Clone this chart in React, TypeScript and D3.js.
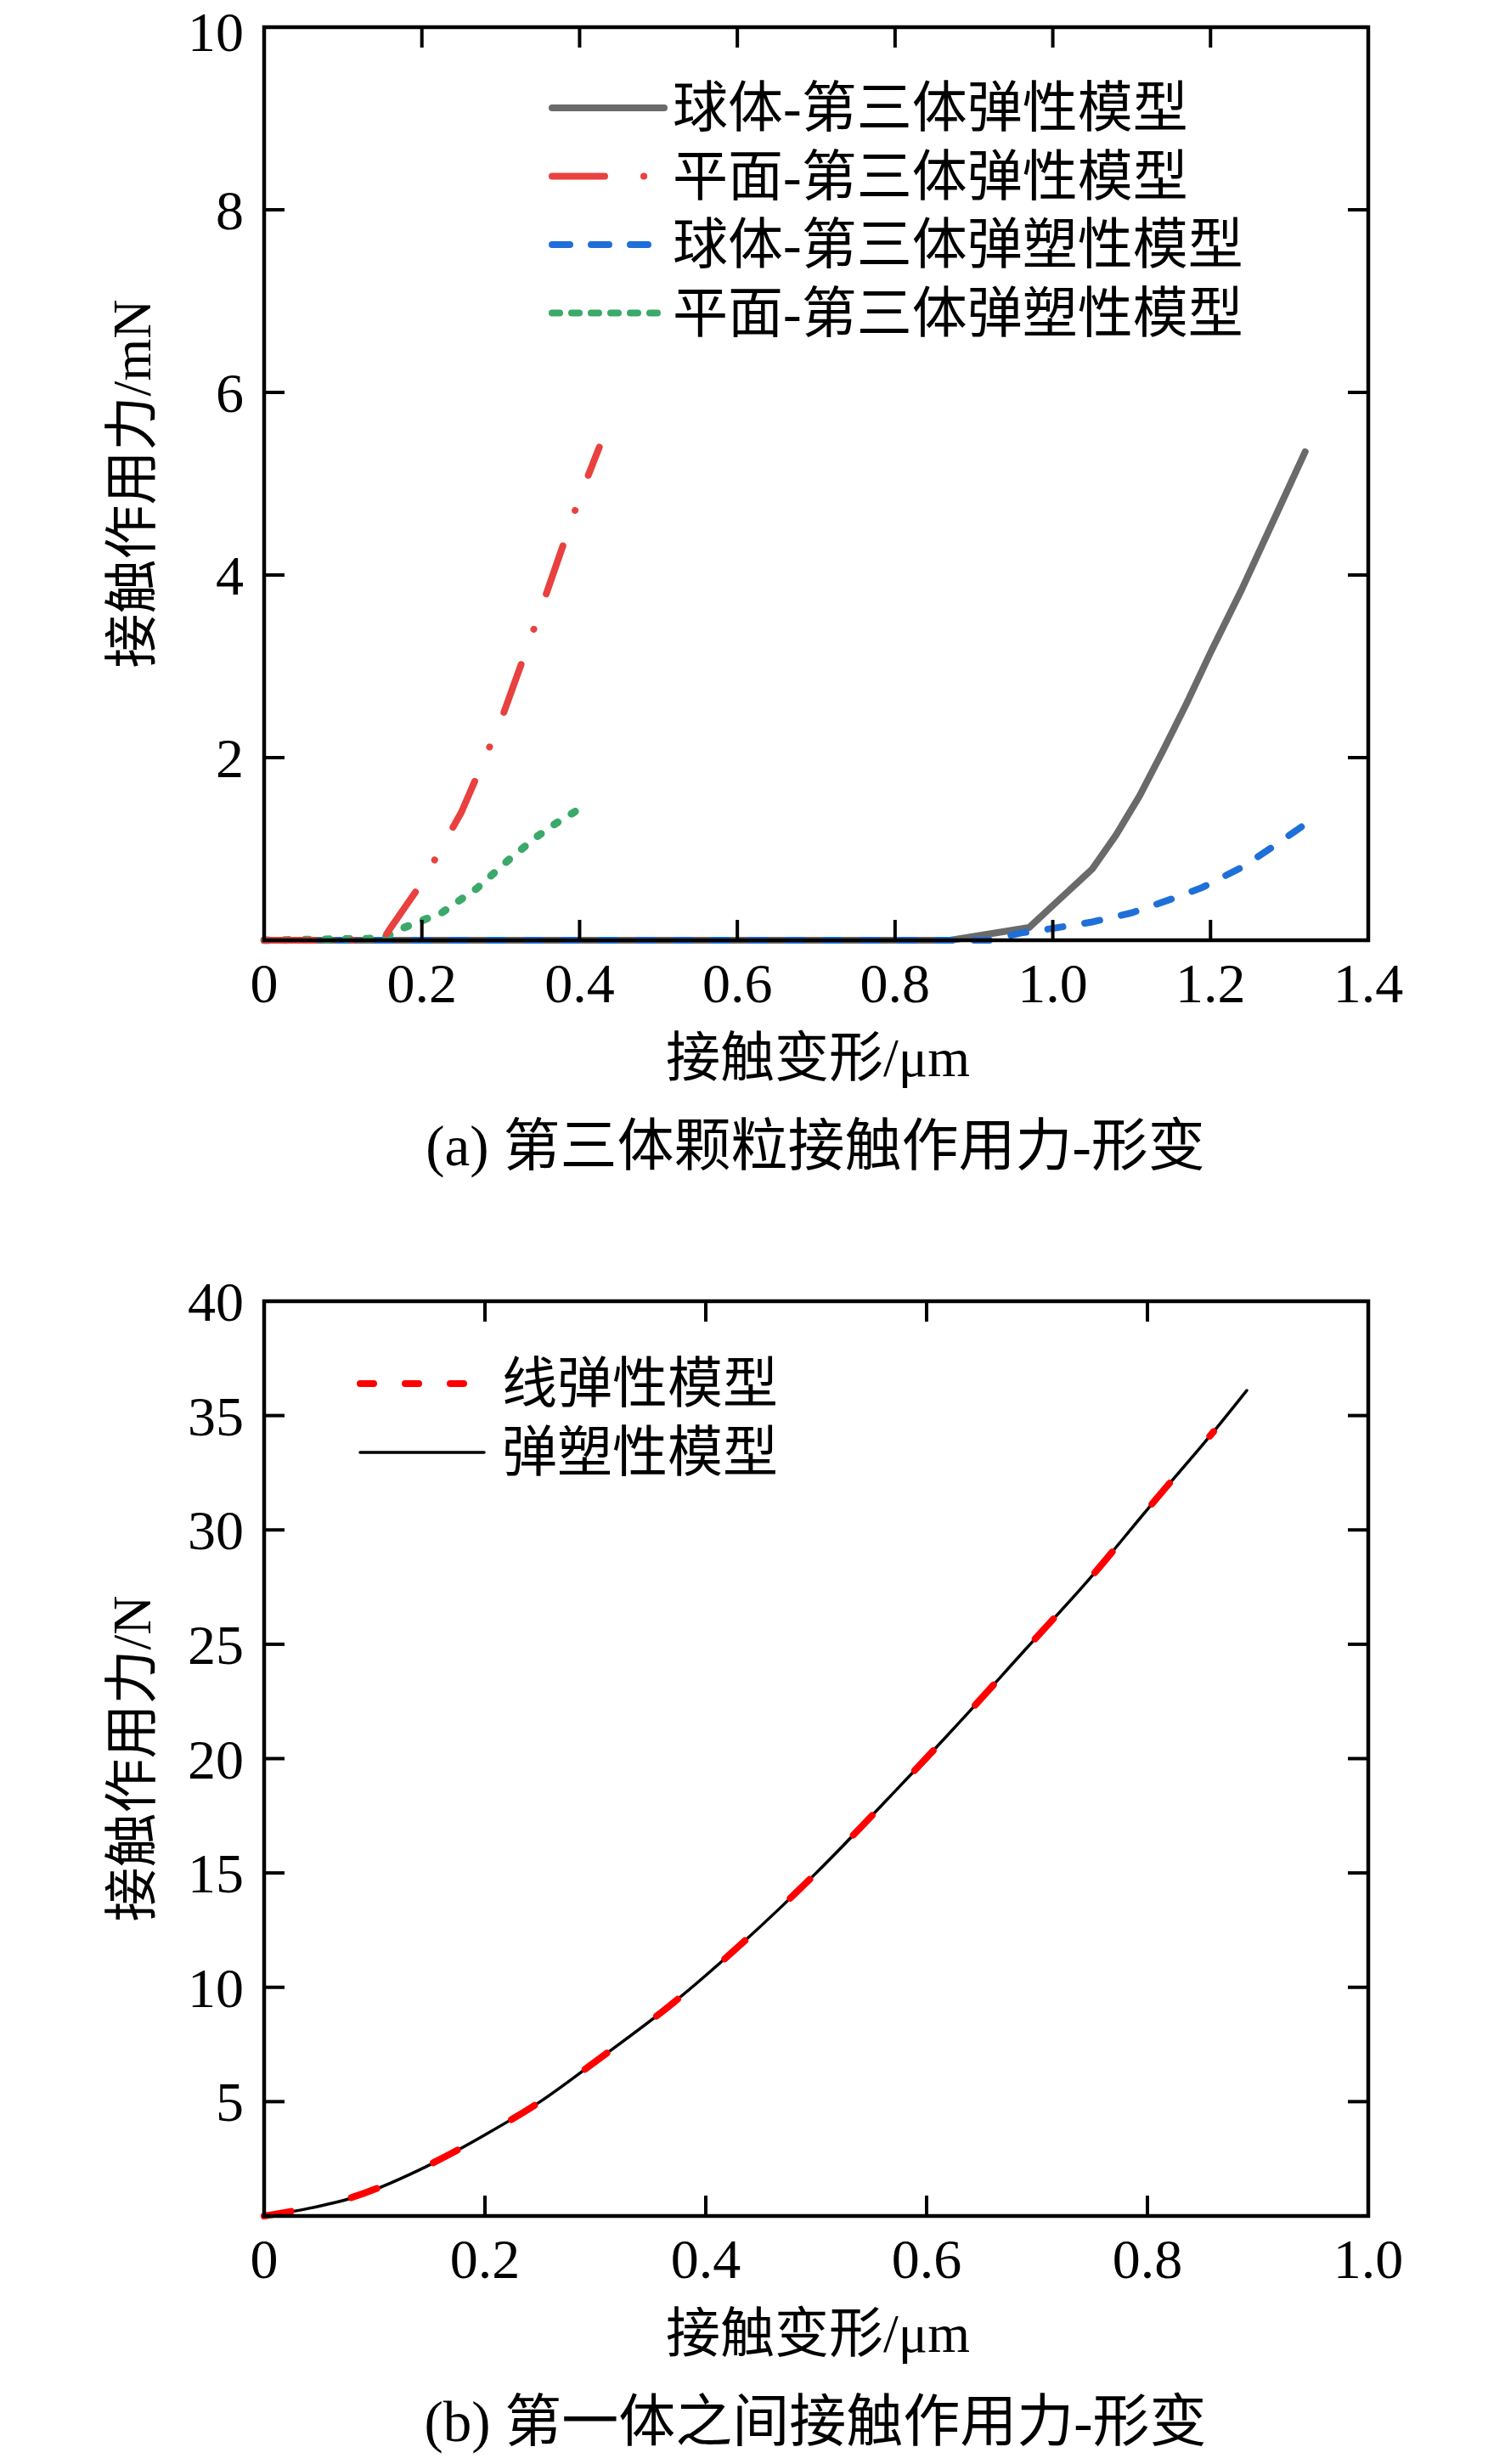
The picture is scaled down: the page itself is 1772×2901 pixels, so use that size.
import React from 'react';
import * as D3 from 'd3';

// ---- panel (a): third-body particle contact force vs deformation ----
const A_X_TICKS = [0, 0.2, 0.4, 0.6, 0.8, 1.0, 1.2, 1.4];
const A_X_LABELS = ['0', '0.2', '0.4', '0.6', '0.8', '1.0', '1.2', '1.4'];
const A_Y_TICKS = [2, 4, 6, 8, 10];
const A_Y_LABELS = ['2', '4', '6', '8', '10'];

// 球体-第三体弹性模型
const SPHERE_E_X = [0, 0.2, 0.4, 0.6, 0.8, 0.87, 0.97, 1.0, 1.05, 1.08, 1.11, 1.14, 1.17, 1.2, 1.24, 1.28, 1.32];
const SPHERE_E_Y = [0, 0, 0, 0, 0, 0, 0.14, 0.38, 0.78, 1.15, 1.58, 2.08, 2.6, 3.15, 3.85, 4.6, 5.35];
// 平面-第三体弹性模型
const PLANE_E_X = [0, 0.1, 0.15, 0.16, 0.2, 0.25, 0.3, 0.35, 0.4, 0.425];
const PLANE_E_Y = [0, 0, 0, 0.13, 0.63, 1.4, 2.4, 3.6, 4.85, 5.4];
// 球体-第三体弹塑性模型
const SPHERE_EP_X = [0, 0.4, 0.8, 0.92, 0.96, 1.0, 1.05, 1.1, 1.15, 1.19, 1.24, 1.28, 1.33];
const SPHERE_EP_Y = [0, 0, 0, 0, 0.08, 0.13, 0.2, 0.3, 0.45, 0.58, 0.8, 1.03, 1.33];
// 平面-第三体弹塑性模型
const PLANE_EP_X = [0, 0.15, 0.175, 0.225, 0.27, 0.31, 0.345, 0.37, 0.4];
const PLANE_EP_Y = [0, 0.02, 0.13, 0.3, 0.57, 0.88, 1.13, 1.28, 1.44];

// ---- panel (b): first-body contact force vs deformation ----
const B_X_TICKS = [0, 0.2, 0.4, 0.6, 0.8, 1.0];
const B_X_LABELS = ['0', '0.2', '0.4', '0.6', '0.8', '1.0'];
const B_Y_TICKS = [5, 10, 15, 20, 25, 30, 35, 40];
const B_Y_LABELS = ['5', '10', '15', '20', '25', '30', '35', '40'];

// 弹塑性模型
const EP_X = [0, 0.04, 0.08, 0.14, 0.2, 0.25, 0.3, 0.37, 0.43, 0.5, 0.57, 0.63, 0.69, 0.75, 0.8, 0.86, 0.89];
const EP_Y = [0, 0.33, 0.8, 2.0, 3.55, 5.0, 6.75, 9.3, 11.8, 15.0, 18.5, 21.6, 24.8, 28.0, 30.9, 34.3, 36.1];
// 线弹性模型
const LE_X = [0, 0.04, 0.08, 0.14, 0.2, 0.25, 0.3, 0.37, 0.43, 0.5, 0.57, 0.63, 0.69, 0.75, 0.8, 0.86];
const LE_Y = [0, 0.35, 0.82, 2.02, 3.55, 5.0, 6.75, 9.3, 11.8, 15.0, 18.5, 21.6, 24.8, 28.0, 30.9, 34.3];

const FONT = "'Liberation Serif', 'Times New Roman', 'Noto Sans CJK SC', serif";
const LEFT = 311;
const RIGHT = 1611;
const TICK = 24;

interface Series {
    xs: number[];
    ys: number[];
    color: string;
    width: number;
    dash?: string;
    smooth?: boolean;
}

interface LegendItem {
    label: string;
    color: string;
    width: number;
    dash?: string;
    len: number;
}

interface PanelProps {
    top: number;
    bottom: number;
    xDomain: [number, number];
    yDomain: [number, number];
    xTicks: number[];
    xLabels: string[];
    yTicks: number[];
    yLabels: string[];
    series: Series[];
    legend: LegendItem[];
    legendX: number;
    legendY: number;
    legendGap: number;
    legendTextX: number;
    yTitle: string;
    caption: string;
}

const Panel = ({ top, bottom, xDomain, yDomain, xTicks, xLabels, yTicks, yLabels, series, legend, legendX, legendY, legendGap, legendTextX, yTitle, caption }: PanelProps) => {
    const xScale = D3.scaleLinear().domain(xDomain).range([LEFT, RIGHT]);
    const yScale = D3.scaleLinear().domain(yDomain).range([bottom, top]);
    const midY = (top + bottom) / 2;

    const innerX = xTicks.filter(t => t > xDomain[0] && t < xDomain[1]);
    const innerY = yTicks.filter(t => t > yDomain[0] && t < yDomain[1]);

    return (
        <g>
            {series.map((s, i) => {
                const pts = s.xs.map((x, j) => [x, s.ys[j]] as [number, number]);
                const line = D3.line<[number, number]>()
                    .x(d => xScale(d[0]))
                    .y(d => yScale(d[1]))
                    .curve(s.smooth ? D3.curveMonotoneX : D3.curveLinear);
                return (
                    <path key={i} d={line(pts) || ''} fill="none" stroke={s.color}
                        strokeWidth={s.width} strokeDasharray={s.dash}
                        strokeLinecap="round" strokeLinejoin="round" />
                );
            })}

            {/* frame + inward ticks */}
            <rect x={LEFT} y={top} width={RIGHT - LEFT} height={bottom - top}
                fill="none" stroke="#000" strokeWidth={4.5} />
            {innerX.map(t => (
                <g key={'x' + t}>
                    <line x1={xScale(t)} x2={xScale(t)} y1={bottom} y2={bottom - TICK} stroke="#000" strokeWidth={4} />
                    <line x1={xScale(t)} x2={xScale(t)} y1={top} y2={top + TICK} stroke="#000" strokeWidth={4} />
                </g>
            ))}
            {innerY.map(t => (
                <g key={'y' + t}>
                    <line x1={LEFT} x2={LEFT + TICK} y1={yScale(t)} y2={yScale(t)} stroke="#000" strokeWidth={4} />
                    <line x1={RIGHT} x2={RIGHT - TICK} y1={yScale(t)} y2={yScale(t)} stroke="#000" strokeWidth={4} />
                </g>
            ))}

            {/* tick labels */}
            {xTicks.map((t, i) => (
                <text key={'xl' + t} x={xScale(t)} y={bottom + 73} textAnchor="middle"
                    fontFamily={FONT} fontSize={66}>{xLabels[i]}</text>
            ))}
            {yTicks.map((t, i) => (
                <text key={'yl' + t} x={LEFT - 24} y={Math.max(yScale(t) + 23, 60)} textAnchor="end"
                    fontFamily={FONT} fontSize={66}>{yLabels[i]}</text>
            ))}

            {/* axis titles */}
            <text x={963} y={bottom + 160} textAnchor="middle" fontFamily={FONT} fontSize={64}>接触变形/μm</text>
            <text transform={`translate(177,${midY}) rotate(-90)`} textAnchor="middle"
                fontFamily={FONT} fontSize={64}>{yTitle}</text>
            <text x={960} y={bottom + 265} textAnchor="middle" fontFamily={FONT} fontSize={67}>{caption}</text>

            {/* legend */}
            {legend.map((l, i) => {
                const ly = legendY + i * legendGap;
                return (
                    <g key={'lg' + i}>
                        <line x1={legendX} x2={legendX + l.len} y1={ly} y2={ly} stroke={l.color}
                            strokeWidth={l.width} strokeDasharray={l.dash} strokeLinecap="round" />
                        <text x={legendTextX} y={ly + 22} fontFamily={FONT} fontSize={65}>{l.label}</text>
                    </g>
                );
            })}
        </g>
    );
};

const GRAY = '#6a6a6a';
const RED = '#e8413f';
const BLUE = '#1f6fd8';
const GREEN = '#3aa96a';

export default function App() {
    return (
        <svg width={1772} height={2901} viewBox="0 0 1772 2901"
            style={{ position: 'absolute', left: 0, top: 0, background: '#fff' }}>
            <rect width={1772} height={2901} fill="#fff" />
            <Panel
                top={32} bottom={1107}
                xDomain={[0, 1.4]} yDomain={[0, 10]}
                xTicks={A_X_TICKS} xLabels={A_X_LABELS}
                yTicks={A_Y_TICKS} yLabels={A_Y_LABELS}
                series={[
                    { xs: SPHERE_E_X, ys: SPHERE_E_Y, color: GRAY, width: 8 },
                    { xs: SPHERE_EP_X, ys: SPHERE_EP_Y, color: BLUE, width: 8, dash: '18,26' },
                    { xs: PLANE_EP_X, ys: PLANE_EP_Y, color: GREEN, width: 9, dash: '5,19' },
                    { xs: PLANE_E_X, ys: PLANE_E_Y, color: RED, width: 8, dash: '60,44,0.1,44' },
                ]}
                legend={[
                    { label: '球体-第三体弹性模型', color: GRAY, width: 8, len: 132 },
                    { label: '平面-第三体弹性模型', color: RED, width: 8, dash: '62,46,0.1,100', len: 110 },
                    { label: '球体-第三体弹塑性模型', color: BLUE, width: 8, dash: '21,25', len: 119 },
                    { label: '平面-第三体弹塑性模型', color: GREEN, width: 8, dash: '9,14', len: 125 },
                ]}
                legendX={650} legendY={127} legendGap={80.5} legendTextX={792}
                yTitle="接触作用力/mN"
                caption="(a) 第三体颗粒接触作用力-形变"
            />
            <Panel
                top={1532} bottom={2609}
                xDomain={[0, 1.0]} yDomain={[0, 40]}
                xTicks={B_X_TICKS} xLabels={B_X_LABELS}
                yTicks={B_Y_TICKS} yLabels={B_Y_LABELS}
                series={[
                    { xs: EP_X, ys: EP_Y, color: '#000', width: 3.5, smooth: true },
                    { xs: LE_X, ys: LE_Y, color: '#ff0000', width: 8, dash: '32,73', smooth: true },
                ]}
                legend={[
                    { label: '线弹性模型', color: '#ff0000', width: 8, dash: '16,37', len: 130 },
                    { label: '弹塑性模型', color: '#000', width: 3.5, len: 146 },
                ]}
                legendX={424} legendY={1629} legendGap={81} legendTextX={591}
                yTitle="接触作用力/N"
                caption="(b) 第一体之间接触作用力-形变"
            />
        </svg>
    );
}
